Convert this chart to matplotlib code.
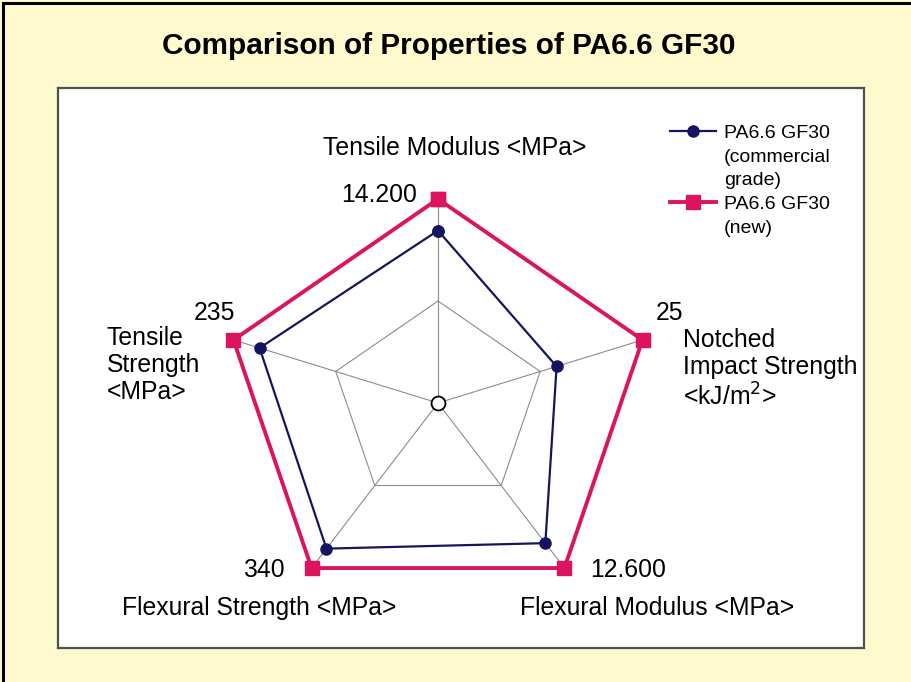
import numpy as np
import matplotlib
matplotlib.use("Agg")
import matplotlib.pyplot as plt
from matplotlib.lines import Line2D

plt.rcParams['font.family'] = ['Liberation Sans', 'DejaVu Sans']

# DADOS
eixos = ['Tensile Modulus <MPa>', 'Notched\nImpact Strength\n<kJ/m$^2$>',
         'Flexural Modulus <MPa>', 'Flexural Strength <MPa>',
         'Tensile\nStrength\n<MPa>']
maximos = [14200, 25, 12600, 340, 235]
rotulos_max = ['14.200', '25', '12.600', '340', '235']
comercial = [12000, 14.5, 10700, 300, 205]
novo = [14200, 25, 12600, 340, 235]

serie_nomes = [['PA6.6 GF30', '(commercial', 'grade)'], ['PA6.6 GF30', '(new)']]

# GEOMETRIA
n = len(eixos)
ang = np.deg2rad(90 - 72 * np.arange(n))
ang_f = np.append(ang, ang[0])

def pontos(vals):
    r = np.array(vals, dtype=float) / np.array(maximos, dtype=float)
    r = np.append(r, r[0])
    return r * np.cos(ang_f), r * np.sin(ang_f)

fig = plt.figure(figsize=(9.11, 6.82), dpi=100)
fig.patch.set_facecolor('#FFFACD')

# moldura externa (topo e esquerda)
fig.add_artist(Line2D([0.0035, 0.0035], [0, 0.9956], color='black', lw=2.2,
                      transform=fig.transFigure))
fig.add_artist(Line2D([0.0035, 1], [0.9956, 0.9956], color='black', lw=2.2,
                      transform=fig.transFigure))

fig.text(449 / 911, 1 - 46 / 682, 'Comparison of Properties of PA6.6 GF30',
         ha='center', va='center', fontsize=21.4, fontweight='bold')

ax = fig.add_axes([58 / 911, 34 / 682, 806 / 911, 560 / 682])
ax.set_facecolor('white')
for s in ax.spines.values():
    s.set_color('#505050')
    s.set_linewidth(1.6)
ax.set_xticks([])
ax.set_yticks([])
ax.set_xlim(-1.767, 1.981)
ax.set_ylim(-1.201, 1.544)

# grade
for nivel in [0.5, 1.0]:
    ax.plot(nivel * np.cos(ang_f), nivel * np.sin(ang_f), color='#8c8c8c', lw=0.8, zorder=1)
for a in ang:
    ax.plot([0, np.cos(a)], [0, np.sin(a)], color='#8c8c8c', lw=0.8, zorder=1)
ax.plot([0], [0], 'o', ms=10, mfc='white', mec='black', mew=1.3, zorder=5)

xc, yc = pontos(comercial)
xn, yn = pontos(novo)
lc, = ax.plot(xc, yc, color='#141460', lw=1.6, marker='o', ms=8, zorder=3)
ln, = ax.plot(xn, yn, color='#DC1460', lw=2.8, marker='s', ms=9.5, zorder=4)

fs = 17.8
# rotulos dos eixos
ax.text(0.079, 1.25, eixos[0], ha='center', va='center', fontsize=fs)
ax.text(1.14, 0.167, eixos[1], ha='left', va='center', fontsize=fs, linespacing=1.18)
ax.text(1.02, -1.005, eixos[2], ha='center', va='center', fontsize=fs)
ax.text(-0.83, -1.005, eixos[3], ha='center', va='center', fontsize=fs)
ax.text(-1.54, 0.186, eixos[4], ha='left', va='center', fontsize=fs, linespacing=1.18)

# valores maximos
ax.text(-0.098, 1.02, rotulos_max[0], ha='right', va='center', fontsize=fs)
ax.text(1.014, 0.44, rotulos_max[1], ha='left', va='center', fontsize=fs)
ax.text(0.707, -0.82, rotulos_max[2], ha='left', va='center', fontsize=fs)
ax.text(-0.712, -0.82, rotulos_max[3], ha='right', va='center', fontsize=fs)
ax.text(-0.944, 0.44, rotulos_max[4], ha='right', va='center', fontsize=fs)

# legenda: uma linha por entrada, so a primeira com simbolo
vazio = Line2D([], [], color='none')
handles, labels = [], []
for h, nomes in zip([lc, ln], serie_nomes):
    for i, t in enumerate(nomes):
        handles.append(h if i == 0 else vazio)
        labels.append(t)
ax.legend(handles, labels, loc='upper left', bbox_to_anchor=(0.759, 0.935),
          frameon=False, fontsize=14, handlelength=2.4, handletextpad=0.4,
          labelspacing=0.31, borderpad=0, borderaxespad=0)

fig.savefig('out.png', dpi=100, facecolor=fig.get_facecolor())
